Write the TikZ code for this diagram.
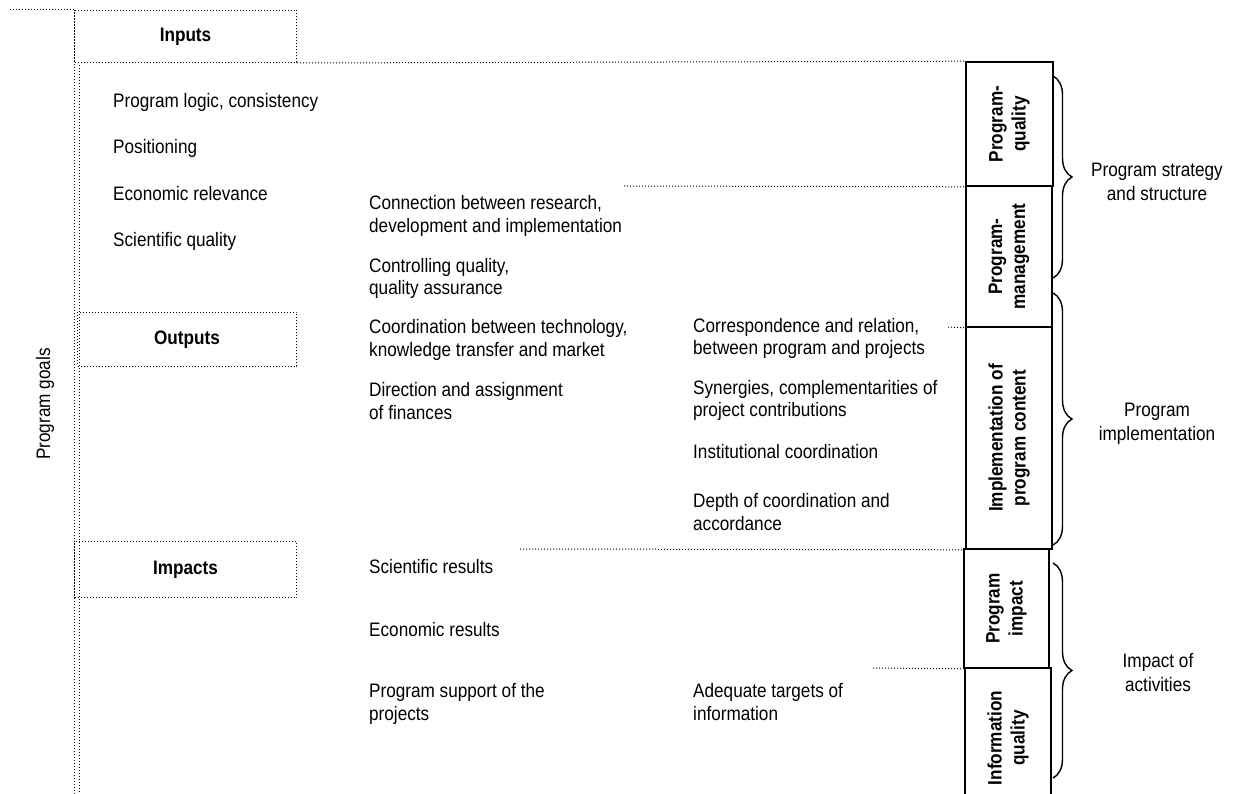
\documentclass[tikz,border=0pt]{standalone}
\usepackage{fontspec}
\setmainfont{Liberation Sans}[FakeStretch=0.88]
\usetikzlibrary{decorations.pathreplacing}
\newcommand{\fsz}{\fontsize{19.5}{22.5}\selectfont}
\tikzset{
  dotline/.style={line width=1pt, dash pattern=on 1pt off 2pt, black},
  hdrbox/.style={draw, dotline, anchor=north west, inner sep=0pt, font=\fsz\bfseries},
  rbox/.style={draw, line width=1.6pt, rotate=90, align=center, inner sep=0pt, font=\fontsize{19.5}{23}\selectfont\bfseries},
  txt/.style={anchor=base west, align=left, inner sep=0pt, font=\fsz},
  blabel/.style={align=center, inner sep=0pt, font=\fontsize{19.5}{24}\selectfont},
  bracestyle/.style={line width=1.4pt, decorate, decoration={brace, amplitude=19pt, aspect=0.5}}
}
\begin{document}
\begin{tikzpicture}[x=1pt,y=-1pt]
\useasboundingbox (0,0) rectangle (1235,794);
\clip (0,0) rectangle (1235,794);

% header boxes (dotted)
\node[hdrbox, minimum width=222pt, minimum height=52pt] (inputs) at (74,10) {Inputs};
\node[hdrbox, minimum width=219pt, minimum height=54pt] (outputs) at (77,312) {Outputs};
\node[hdrbox, minimum width=222pt, minimum height=56pt] (impacts) at (74,541) {Impacts};

% frame lines
\coordinate (tl) at (10,10);
\coordinate (outerbot) at (74,794);
\coordinate (innertop) at (79,65);
\coordinate (innerbot) at (79,794);
\draw[dotline] (tl) -- (inputs.north west);
\draw[dotline] (inputs.north west) -- (outerbot);
\draw[dotline] (innertop) -- (innerbot);

% program goals
\node[rotate=90, inner sep=0pt, font=\fsz] (goals) at (45,404) {Program goals};

% right solid boxes
\node[rbox, minimum width=124pt, minimum height=87pt] (pq) at (1009.5,124) {Program-\\quality};
\node[rbox, minimum width=141pt, minimum height=86pt] (pm) at (1009,256.5) {Program-\\management};
\node[rbox, minimum width=222pt, minimum height=86pt] (ipc) at (1009,438) {Implementation of\\program content};
\node[rbox, minimum width=119pt, minimum height=85pt] (pi) at (1006.5,608.5) {Program\\impact};
\node[rbox, minimum width=140pt, minimum height=86pt] (iq) at (1008,738) {Information\\quality};

% dotted connectors
\draw[dotline] (inputs.south east) -- (pq.north east);
\coordinate (c1) at (624,186);
\draw[dotline] (c1) -- (pq.north west);
\coordinate (c2) at (948,327);
\draw[dotline] (c2) -- (pm.north west);
\coordinate (c3) at (520,549);
\draw[dotline] (c3) -- (ipc.north west);
\coordinate (c4) at (873,668);
\draw[dotline] (c4) -- (pi.north west);

% braces
\coordinate (b1t) at (1053,76);   \coordinate (b1b) at (1053,278);
\coordinate (b2t) at (1053,293);  \coordinate (b2b) at (1053,545);
\coordinate (b3t) at (1053,563);  \coordinate (b3b) at (1053,778);
\draw[bracestyle] (b1t) -- (b1b);
\draw[bracestyle] (b2t) -- (b2b);
\draw[bracestyle] (b3t) -- (b3b);
\node[blabel] (l1) at (1157,181.5) {Program strategy\\and structure};
\node[blabel] (l2) at (1157,423.5) {Program\\implementation};
\node[blabel] (l3) at (1158,672.5) {Impact of\\activities};

% column 1
\node[txt] (a1) at (113,107.5) {Program logic, consistency};
\node[txt] (a2) at (113,154) {Positioning};
\node[txt] (a3) at (113,200.5) {Economic relevance};
\node[txt] (a4) at (113,247) {Scientific quality};

% column 2 (base = last line)
\node[txt] (m1) at (369,232.5) {Connection between research,\\development and implementation};
\node[txt] (m2) at (369,295) {Controlling quality,\\quality assurance};
\node[txt] (m3) at (369,356.5) {Coordination between technology,\\knowledge transfer and market};
\node[txt] (m4) at (369,419) {Direction and assignment\\of finances};
\node[txt] (m5) at (369,573) {Scientific results};
\node[txt] (m6) at (369,636) {Economic results};
\node[txt] (m7) at (369,720) {Program support of the\\projects};

% column 3
\node[txt] (r1) at (693,355) {Correspondence and relation,\\between program and projects};
\node[txt] (r2) at (693,417) {Synergies, complementarities of\\project contributions};
\node[txt] (r3) at (693,458) {Institutional coordination};
\node[txt] (r4) at (693,530) {Depth of coordination and\\accordance};
\node[txt] (r5) at (693,720) {Adequate targets of\\information};
\end{tikzpicture}
\end{document}
